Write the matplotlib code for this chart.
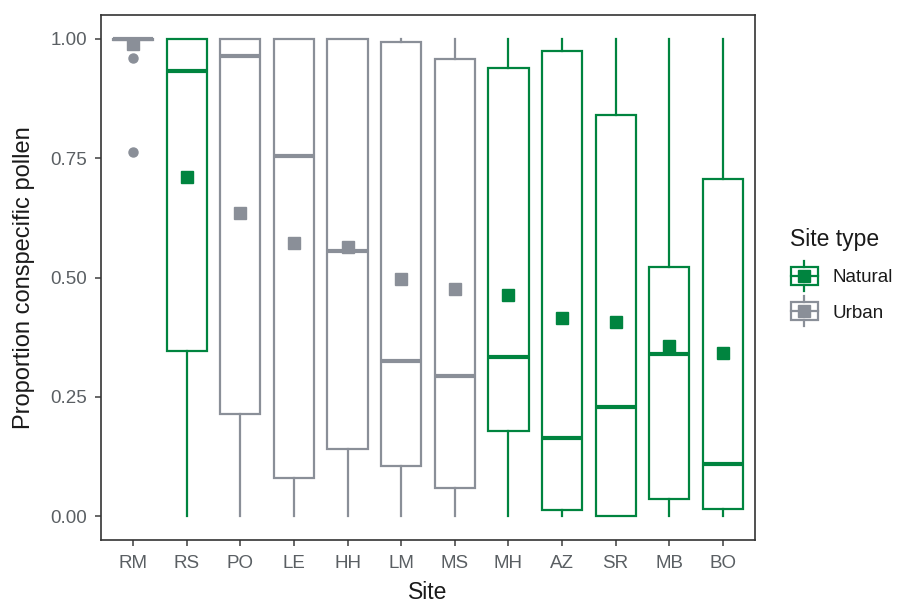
import matplotlib
matplotlib.use("Agg")
import matplotlib.pyplot as plt
from matplotlib.legend_handler import HandlerBase
from matplotlib.patches import Rectangle
from matplotlib.lines import Line2D

plt.rcParams['font.family'] = ['Liberation Sans', 'DejaVu Sans']

sites = ["RM", "RS", "PO", "LE", "HH", "LM", "MS", "MH", "AZ", "SR", "MB", "BO"]
site_type = ["Urban", "Natural", "Urban", "Urban", "Urban", "Urban", "Urban",
             "Natural", "Natural", "Natural", "Natural", "Natural"]
q1 = [0.997, 0.347, 0.213, 0.079, 0.140, 0.105, 0.059, 0.178, 0.013, 0.000, 0.036, 0.015]
med = [1.000, 0.933, 0.964, 0.755, 0.556, 0.326, 0.293, 0.333, 0.163, 0.228, 0.339, 0.109]
q3 = [1.000, 1.000, 1.000, 1.000, 1.000, 0.994, 0.958, 0.939, 0.975, 0.841, 0.523, 0.707]
whislo = [0.997, 0.0, 0.0, 0.0, 0.0, 0.0, 0.0, 0.0, 0.0, 0.0, 0.0, 0.0]
whishi = [1.0, 1.0, 1.0, 1.0, 1.0, 1.0, 1.0, 1.0, 1.0, 1.0, 1.0, 1.0]
means = [0.989, 0.711, 0.636, 0.573, 0.563, 0.496, 0.475, 0.464, 0.416, 0.406, 0.356, 0.341]
outliers = [[0.960, 0.763], [], [], [], [], [], [], [], [], [], [], []]

colors = {"Natural": "#00843F", "Urban": "#8A8F98"}

fig = plt.figure(figsize=(9.11, 6.04), dpi=100)
ax = fig.add_axes([101/911, 1-540/604, (755-101)/911, (540-15)/604])

for i in range(len(sites)):
    c = colors[site_type[i]]
    st = dict(med=med[i], q1=q1[i], q3=q3[i], whislo=whislo[i], whishi=whishi[i],
              fliers=outliers[i], mean=means[i])
    ax.bxp([st], positions=[i], widths=0.75, showcaps=False, showmeans=True,
           patch_artist=True,
           boxprops=dict(facecolor="white", edgecolor=c, linewidth=1.6),
           whiskerprops=dict(color=c, linewidth=1.6),
           medianprops=dict(color=c, linewidth=3, solid_capstyle="butt"),
           flierprops=dict(marker="o", markerfacecolor=c, markeredgecolor=c, markersize=6.5),
           meanprops=dict(marker="s", markerfacecolor=c, markeredgecolor=c, markersize=8.5),
           manage_ticks=False)

ax.set_xlim(-0.6, len(sites) - 0.4)
ax.set_ylim(-0.05, 1.05)
ax.set_xticks(range(len(sites)))
ax.set_xticklabels(sites)
ax.set_yticks([0, 0.25, 0.5, 0.75, 1.0])
ax.set_yticklabels(["0.00", "0.25", "0.50", "0.75", "1.00"])
ax.tick_params(colors="#4D4D4D", labelcolor="#5A5F63", labelsize=13.5, length=4, width=1.2)
ax.tick_params(axis="x", pad=7)
ax.tick_params(axis="y", pad=6)
for sp in ax.spines.values():
    sp.set_color("#333333")
    sp.set_linewidth(1.2)
ax.set_xlabel("Site", fontsize=16.5, color="#1A1A1A", labelpad=6)
ax.set_ylabel("Proportion conspecific pollen", fontsize=17, color="#1A1A1A", labelpad=11)


class BoxHandler(HandlerBase):
    def create_artists(self, legend, orig_handle, xdescent, ydescent, width, height, fontsize, trans):
        c = orig_handle.get_color()
        cx = -xdescent + width / 2
        cy = -ydescent + height / 2
        bw = width * 0.95
        bh = height * 1.0
        rect = Rectangle((cx - bw/2, cy - bh/2), bw, bh, facecolor="white", edgecolor=c,
                         linewidth=1.6, transform=trans)
        wl1 = Line2D([cx, cx], [cy + bh/2, cy + bh/2 + height*0.35], color=c, lw=1.6, transform=trans)
        wl2 = Line2D([cx, cx], [cy - bh/2, cy - bh/2 - height*0.35], color=c, lw=1.6, transform=trans)
        ml = Line2D([cx - bw/2, cx + bw/2], [cy, cy], color=c, lw=1.6, transform=trans)
        mk = Line2D([cx], [cy], marker="s", color=c, markersize=8.5, transform=trans, linestyle="none")
        return [rect, wl1, wl2, ml, mk]


handles = [Line2D([], [], color=colors["Natural"]), Line2D([], [], color=colors["Urban"])]
leg = fig.legend(handles, ["Natural", "Urban"], title="Site type",
                 handler_map={Line2D: BoxHandler()},
                 loc="upper left", bbox_to_anchor=(773/911, 1-211/604), frameon=False,
                 fontsize=13.5, title_fontsize=16.5, handlelength=1.55, handleheight=1.1,
                 labelspacing=0.85, handletextpad=0.75, alignment="left")
for t in leg.get_texts():
    t.set_color("#1A1A1A")
leg.get_title().set_color("#1A1A1A")

fig.savefig("out.png", dpi=100)
